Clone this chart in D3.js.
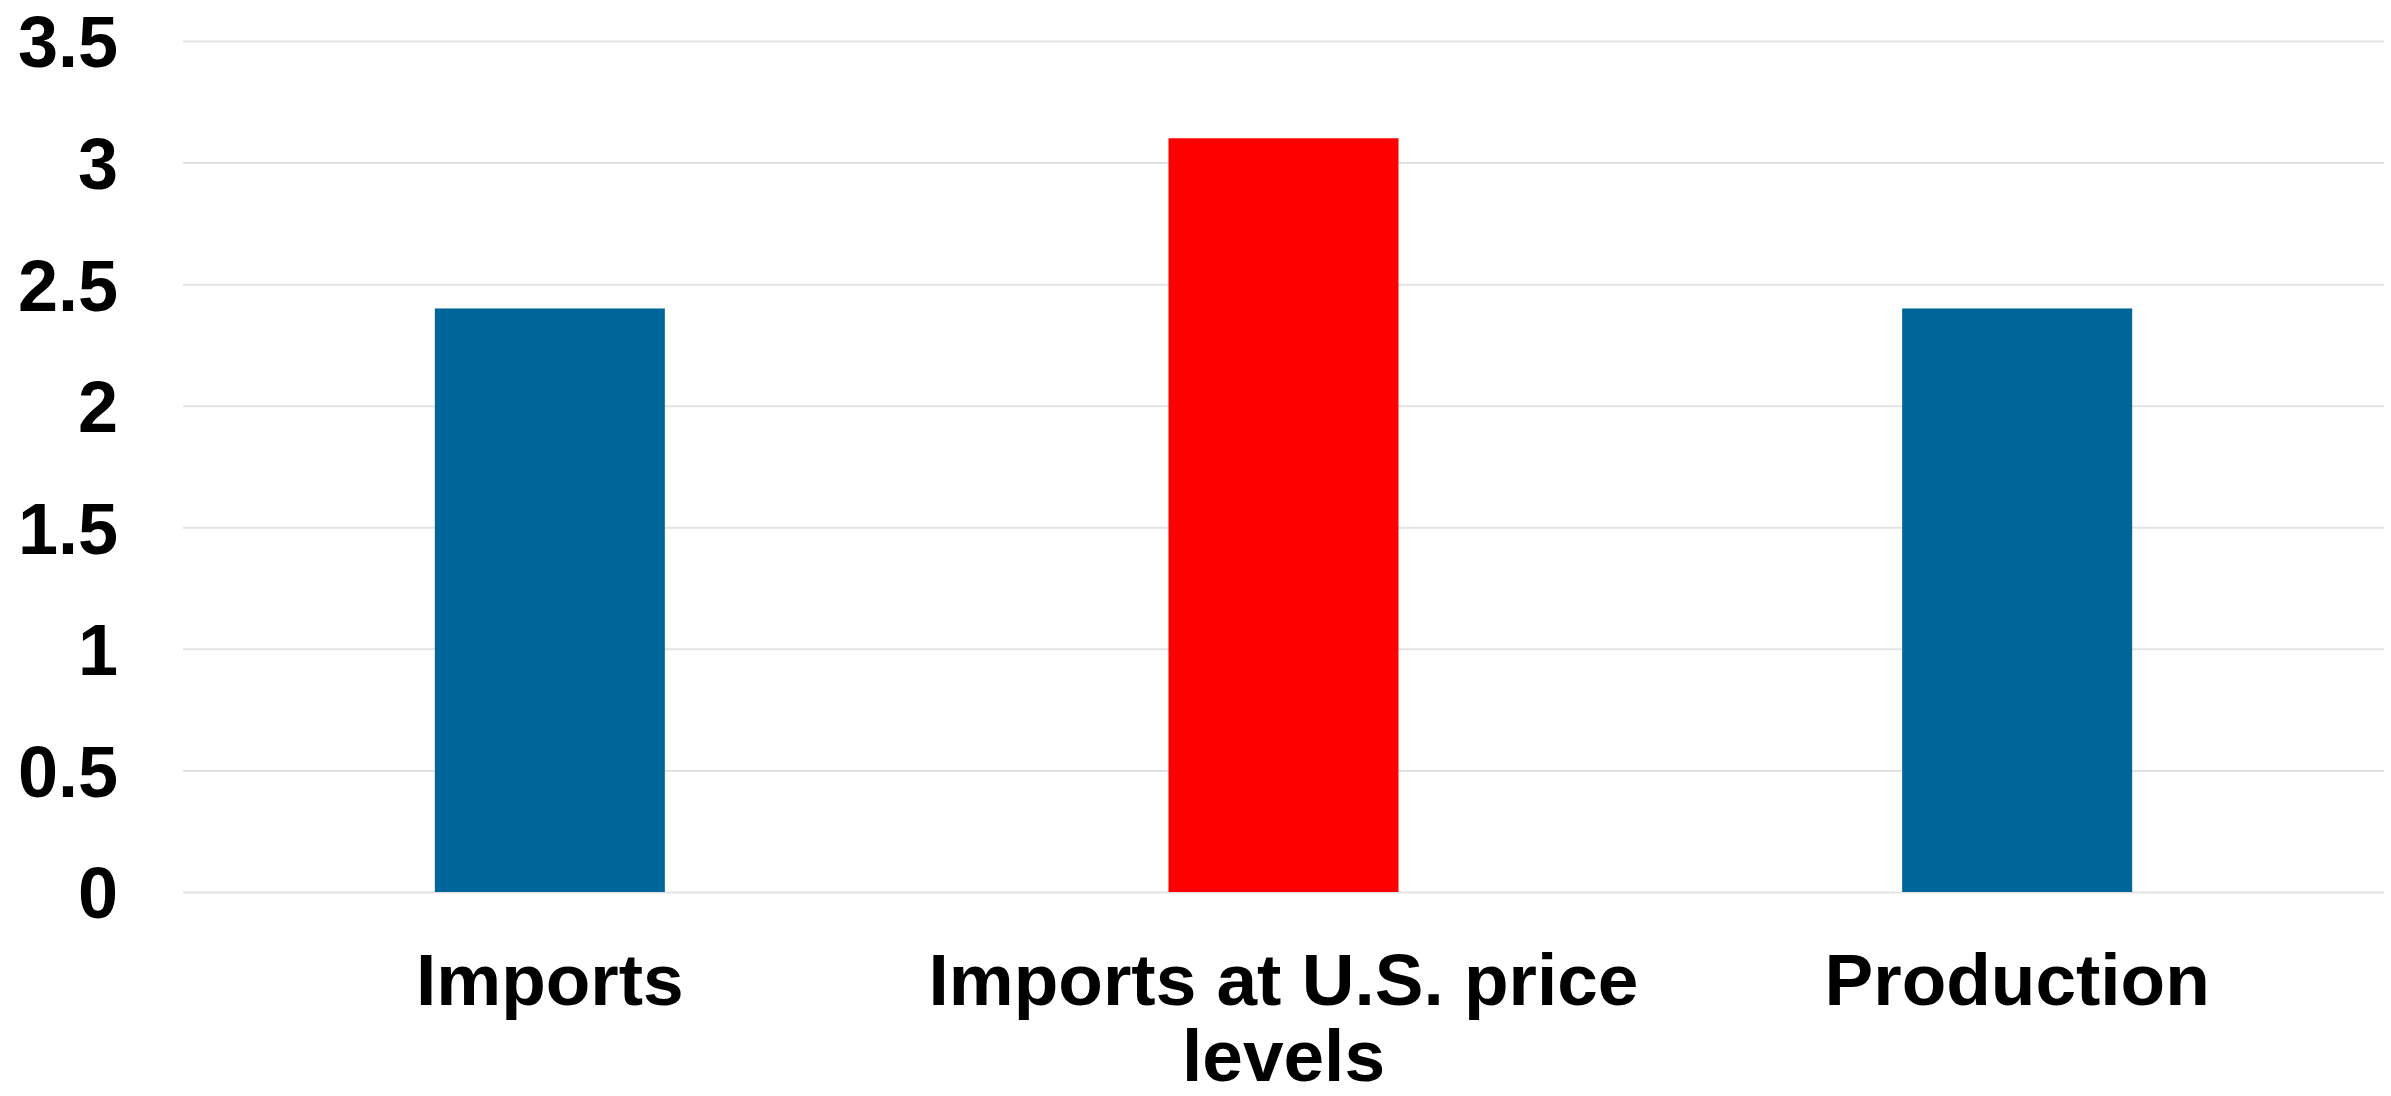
<!DOCTYPE html>
<html>
<head>
<meta charset="utf-8">
<script src="https://cdn.jsdelivr.net/npm/d3@7"></script>
<style>
  html, body { margin: 0; padding: 0; background: #ffffff; }
  svg { display: block; }
  text { font-family: "Liberation Sans", Arial, sans-serif; font-weight: bold; fill: #000; }
</style>
</head>
<body>
<svg id="chart" width="2391" height="1096"></svg>
<script>
const categories = ["Imports", "Imports at U.S. price levels", "Production"];
const values = [2.4, 3.1, 2.4];
const barColors = ["#006699", "#ff0000", "#006699"];
const tickValues = [0, 0.5, 1, 1.5, 2, 2.5, 3, 3.5];
const tickLabels = ["0", "0.5", "1", "1.5", "2", "2.5", "3", "3.5"];

const W = 2391, H = 1096;
const margin = { left: 183, right: 7, top: 41, bottom: 204 };
const innerW = W - margin.left - margin.right;
const innerH = H - margin.top - margin.bottom;

const svg = d3.select("#chart");
const g = svg.append("g").attr("transform", `translate(${margin.left},${margin.top})`);

const x = d3.scaleBand().domain(categories).range([0, innerW])
  .paddingInner(0.6865).paddingOuter(0.6865 / 2);
const y = d3.scaleLinear().domain([0, 3.5]).range([innerH, 0]);

// Y axis with gridlines
const yAxis = g.append("g")
  .call(d3.axisLeft(y).tickValues(tickValues)
    .tickFormat((d, i) => tickLabels[i])
    .tickSize(-innerW).tickPadding(65));
yAxis.select(".domain").remove();
yAxis.selectAll(".tick line").attr("stroke", "#e3e3e3").attr("stroke-width", 2);
yAxis.selectAll(".tick text")
  .attr("font-size", 72).attr("font-family", "Liberation Sans, Arial, sans-serif")
  .attr("font-weight", "bold").attr("fill", "#000").attr("dy", "0.36em");

// Bars
g.selectAll("rect.bar").data(categories).enter().append("rect")
  .attr("class", "bar")
  .attr("x", d => x(d))
  .attr("width", x.bandwidth())
  .attr("y", (d, i) => y(values[i]))
  .attr("height", (d, i) => y(0) - y(values[i]))
  .attr("fill", (d, i) => barColors[i]);

// X axis
const xAxis = g.append("g").attr("transform", `translate(0,${innerH})`)
  .call(d3.axisBottom(x).tickSize(0).tickPadding(0));
xAxis.select(".domain").remove();

function wrap(sel, width) {
  sel.each(function () {
    const text = d3.select(this);
    const words = text.text().split(/\s+/);
    text.text(null);
    let line = [];
    let lines = [];
    const probe = text.append("tspan");
    words.forEach(w => {
      line.push(w);
      probe.text(line.join(" "));
      if (probe.node().getComputedTextLength() > width && line.length > 1) {
        line.pop();
        lines.push(line.join(" "));
        line = [w];
      }
    });
    lines.push(line.join(" "));
    probe.remove();
    lines.forEach((l, i) => {
      text.append("tspan").attr("x", 0).attr("y", 113 + i * 76).text(l);
    });
  });
}

xAxis.selectAll(".tick text")
  .attr("font-size", 73).attr("font-family", "Liberation Sans, Arial, sans-serif")
  .attr("font-weight", "bold").attr("fill", "#000").attr("dy", null)
  .call(wrap, x.step());
</script>
</body>
</html>
